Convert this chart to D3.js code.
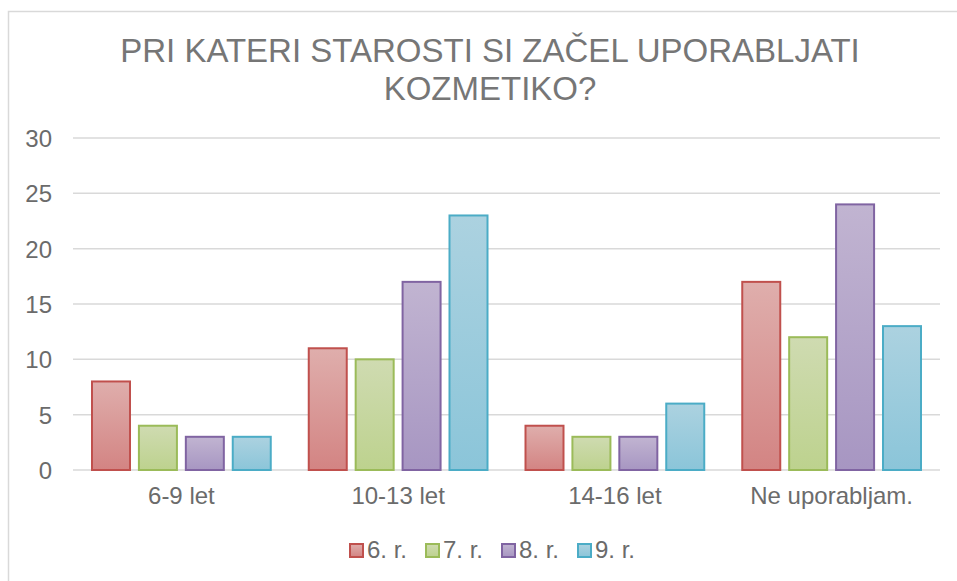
<!DOCTYPE html>
<meta charset="utf-8">
<head>
  <title>Pri kateri starosti si začel uporabljati kozmetiko?</title>
</head>
<script src="https://d3js.org/d3.v7.min.js"></script>
<style>
  body { margin: 0; background: #fff; }
  text { font-family: "Liberation Sans", Arial, sans-serif; }
</style>

<div id="chart"></div>

<script>

  // data
  var categories = ["6-9 let", "10-13 let", "14-16 let", "Ne uporabljam."];
  var series = ["6. r.", "7. r.", "8. r.", "9. r."];
  var values6 = [8, 11, 4, 17];
  var values7 = [4, 10, 3, 12];
  var values8 = [3, 17, 3, 24];
  var values9 = [3, 23, 6, 13];
  var yTicks = [0, 5, 10, 15, 20, 25, 30];
  var titleLines = ["PRI KATERI STAROSTI SI ZAČEL UPORABLJATI", "KOZMETIKO?"];

  var allValues = [values6, values7, values8, values9];

  // colours: outline, gradient top, gradient bottom
  var strokeColors = ["#c0504d", "#9bbb59", "#8064a2", "#4bacc6"];
  var topColors = ["#dfaeac", "#cfdbb1", "#c1b4d1", "#acd2e0"];
  var bottomColors = ["#d38483", "#bdd28e", "#a796c2", "#8bc5d9"];

  var W = 957, H = 581;
  var margin = {top: 138, right: 17, bottom: 111, left: 73},
      width = W - margin.left - margin.right,
      height = H - margin.top - margin.bottom;

  var root = d3.select("#chart")
    .append("svg")
      .attr("width", W)
      .attr("height", H);

  // gradients for the bars
  var defs = root.append("defs");
  series.forEach(function(s, i) {
    var g = defs.append("linearGradient")
      .attr("id", "grad" + i)
      .attr("x1", 0).attr("y1", 0).attr("x2", 0).attr("y2", 1);
    g.append("stop").attr("offset", "0%").attr("stop-color", topColors[i]);
    g.append("stop").attr("offset", "100%").attr("stop-color", bottomColors[i]);
  });

  // chart frame (right and bottom fall outside the picture)
  root.append("rect")
    .attr("x", 8.5)
    .attr("y", 11.5)
    .attr("width", W + 20)
    .attr("height", H + 20)
    .attr("fill", "none")
    .attr("stroke", "#d9d9d9")
    .attr("stroke-width", 1.5);

  // title
  root.append("g")
    .selectAll("text")
    .data(titleLines)
    .enter().append("text")
      .attr("x", 490)
      .attr("y", function(d, i) { return 62 + i * 38; })
      .attr("text-anchor", "middle")
      .attr("fill", "#767676")
      .style("font-size", "33px")
      .text(function(d) { return d; });

  var svg = root.append("g")
    .attr("transform", "translate(" + margin.left + "," + margin.top + ")");

  // scales
  var x0 = d3.scaleBand()
    .domain(categories)
    .range([0, width]);

  var groupPad = 19;
  var x1 = d3.scaleBand()
    .domain(series)
    .range([groupPad, x0.bandwidth() - groupPad])
    .paddingInner(0.19);

  var y = d3.scaleLinear()
    .domain([0, 30])
    .range([height, 0]);

  // gridlines
  svg.append("g")
    .selectAll("line")
    .data(yTicks)
    .enter().append("line")
      .attr("x1", 0)
      .attr("x2", width)
      .attr("y1", function(d) { return y(d); })
      .attr("y2", function(d) { return y(d); })
      .attr("stroke", "#d9d9d9")
      .attr("stroke-width", 1.5);

  // y axis labels
  var yAxis = svg.append("g")
    .call(d3.axisLeft(y).tickValues(yTicks).tickSize(0).tickPadding(21));
  yAxis.select(".domain").remove();
  yAxis.selectAll("text")
    .attr("fill", "#6b6b6b")
    .style("font-size", "24px")
    .attr("dy", "0.36em");

  // x axis labels
  var xAxis = svg.append("g")
    .attr("transform", "translate(0," + height + ")")
    .call(d3.axisBottom(x0).tickSize(0).tickPadding(17));
  xAxis.select(".domain").remove();
  xAxis.selectAll("text")
    .attr("fill", "#6b6b6b")
    .style("font-size", "24px");

  // bars
  var groups = svg.append("g")
    .selectAll("g")
    .data(categories)
    .enter().append("g")
      .attr("transform", function(d) { return "translate(" + x0(d) + ",0)"; });

  groups.selectAll("rect")
    .data(function(d, ci) {
      return series.map(function(s, si) { return {key: s, i: si, value: allValues[si][ci]}; });
    })
    .enter().append("rect")
      .attr("x", function(d) { return x1(d.key); })
      .attr("y", function(d) { return y(d.value); })
      .attr("width", x1.bandwidth())
      .attr("height", function(d) { return y(0) - y(d.value); })
      .attr("fill", function(d) { return "url(#grad" + d.i + ")"; })
      .attr("stroke", function(d) { return strokeColors[d.i]; })
      .attr("stroke-width", 2);

  // legend
  var legend = root.append("g")
    .attr("transform", "translate(350,544)");

  var item = legend.selectAll("g")
    .data(series)
    .enter().append("g")
      .attr("transform", function(d, i) { return "translate(" + (i * 76) + ",0)"; });

  item.append("rect")
    .attr("x", 0)
    .attr("y", 0)
    .attr("width", 13)
    .attr("height", 13)
    .attr("fill", function(d, i) { return "url(#grad" + i + ")"; })
    .attr("stroke", function(d, i) { return strokeColors[i]; })
    .attr("stroke-width", 2);

  item.append("text")
    .attr("x", 17)
    .attr("y", 14)
    .attr("fill", "#6b6b6b")
    .style("font-size", "24px")
    .text(function(d) { return d; });

</script>
